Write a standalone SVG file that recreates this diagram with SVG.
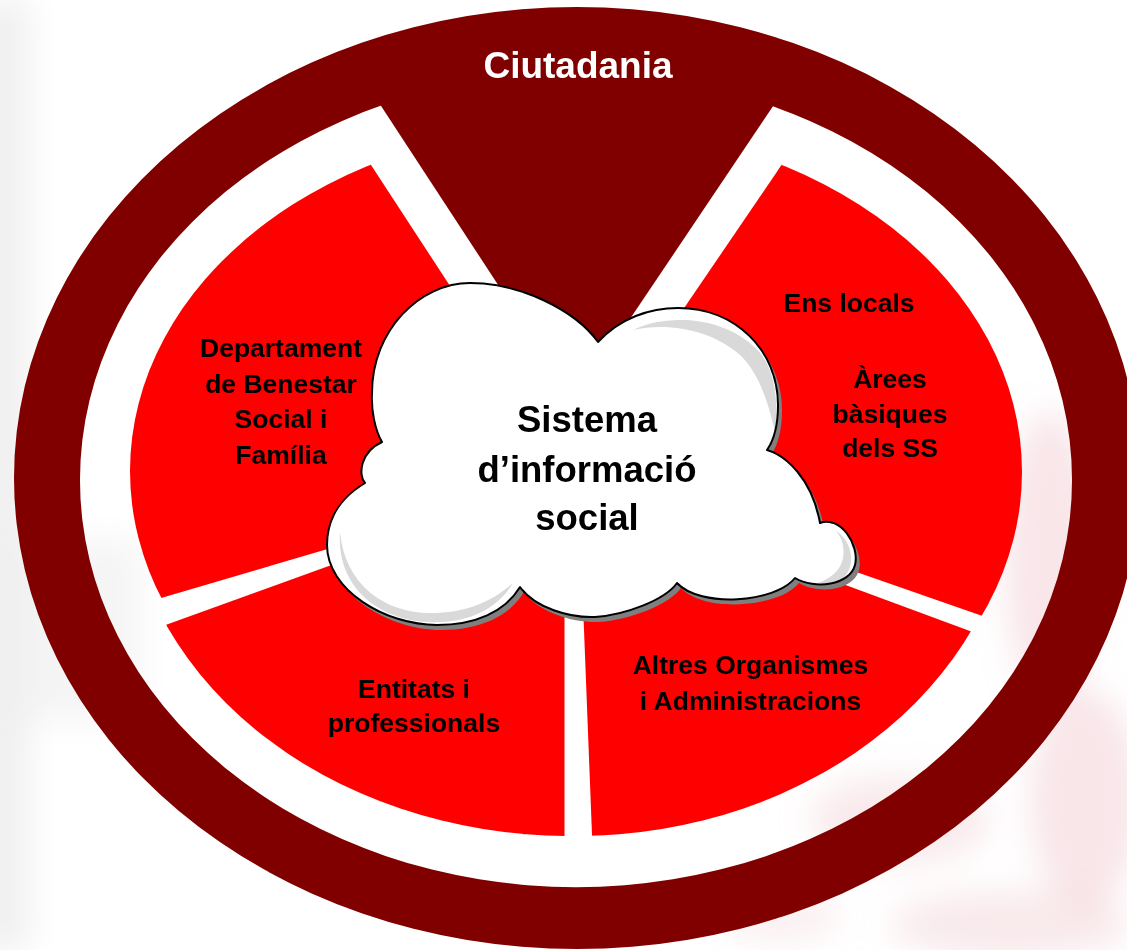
<svg xmlns="http://www.w3.org/2000/svg" width="1127" height="950" viewBox="0 0 1127 950">
<defs>
<style>
.lbl{font-family:"Liberation Sans",Arial,Helvetica,sans-serif;font-weight:bold;fill:#000;text-anchor:middle}
.s26{font-size:26.5px}
.s36{font-size:36.5px}
.maroon{fill:#800000}
.red{fill:#ff0000}
.shade{fill:#d9d9d9}
</style>
<filter id="blur" x="-50%" y="-50%" width="200%" height="200%"><feGaussianBlur stdDeviation="16"/></filter>
<clipPath id="cDep"><polygon points="574.4,476.5 263.3,0 0,0 0,645.3"/></clipPath>
<clipPath id="cEns"><polygon points="571.9,472.8 893.9,0 1127,0 1127,666.5"/></clipPath>
<clipPath id="cEnt"><polygon points="564.5,480.7 0,684.9 0,950 564.5,950"/></clipPath>
<clipPath id="cAlt"><polygon points="578.4,486.3 1127,689.1 1127,950 596.5,950"/></clipPath>
<path id="cloudShape" d="M382,442 C375,430 371,410 372,393 C372,330 420,283 470,283 C520,283 575,310 598,342 C620,318 650,308 678,308 C735,308 778,350 778,405 C778,425 774,440 767,450 C785,455 812,478 820,523 C840,515 860,545 855,565 C850,585 815,590 795,578 C775,603 700,608 677,583 C665,600 625,615 595,617 C570,618 535,608 520,587 C505,612 475,625 437,625 C385,625 327,590 327,545 C327,515 345,495 365,483 C358,475 360,452 382,442 Z"/>
</defs>
<rect width="1127" height="950" fill="#ffffff"/>
<g id="background" filter="url(#blur)">
<rect x="-30" y="0" width="60" height="950" fill="#e6e6e6" opacity="0.6"/>
<rect x="0" y="540" width="140" height="180" fill="#eeeeee" opacity="0.6"/>
<ellipse cx="1050" cy="560" rx="45" ry="150" fill="#eab8bf" opacity="0.35"/>
<ellipse cx="900" cy="820" rx="90" ry="45" fill="#eab8bf" opacity="0.3"/>
<ellipse cx="1085" cy="800" rx="55" ry="110" fill="#eab8bf" opacity="0.35"/>
<ellipse cx="1010" cy="925" rx="120" ry="35" fill="#eab8bf" opacity="0.3"/>
<ellipse cx="780" cy="915" rx="60" ry="30" fill="#eab8bf" opacity="0.2"/>
</g>
<g id="ciutadania">
<path class="maroon" fill-rule="evenodd" d="M14,478 A563,471 0 1,0 1140,478 A563,471 0 1,0 14,478 Z M80,480 A496,407 0 1,0 1072,480 A496,407 0 1,0 80,480 Z"/>
<polygon class="maroon" points="352.3,62 574.4,401.6 802.8,62"/>
<text x="578" y="78" style="font-family:'Liberation Sans',Arial,Helvetica,sans-serif;font-weight:bold;font-size:37px;fill:#ffffff;text-anchor:middle">Ciutadania</text>
</g>
<g id="departament">
<ellipse class="red" cx="576" cy="471" rx="446" ry="345" clip-path="url(#cDep)"/>
<text class="lbl s26" x="281" y="357">Departament</text>
<text class="lbl s26" x="281" y="392.5">de Benestar</text>
<text class="lbl s26" x="281" y="428">Social i</text>
<text class="lbl s26" x="281" y="463.5">Família</text>
</g>
<g id="ens-locals">
<ellipse class="red" cx="576" cy="472" rx="446" ry="346" clip-path="url(#cEns)"/>
<text class="lbl s26" x="849" y="312">Ens locals</text>
<text class="lbl s26" x="890" y="388">Àrees</text>
<text class="lbl s26" x="890" y="422.5">bàsiques</text>
<text class="lbl s26" x="890" y="457">dels SS</text>
</g>
<g id="entitats">
<ellipse class="red" cx="570" cy="472" rx="445" ry="364" clip-path="url(#cEnt)"/>
<text class="lbl s26" x="414" y="698">Entitats i</text>
<text class="lbl s26" x="414" y="732">professionals</text>
</g>
<g id="altres">
<ellipse class="red" cx="576" cy="470" rx="440" ry="366" clip-path="url(#cAlt)"/>
<text class="lbl s26" x="750.5" y="674">Altres Organismes</text>
<text class="lbl s26" x="750.5" y="709.5">i Administracions</text>
</g>
<g id="connectors"></g>
<g id="sistema">
<use href="#cloudShape" transform="translate(4,5)" fill="#7f7f7f"/>
<use href="#cloudShape" fill="#ffffff"/>
<path class="shade" d="M340,532 C336,595 390,625 440,622 C475,621 500,605 513,583 C490,603 465,613 430,613 C385,613 345,585 340,532 Z"/>
<path class="shade" d="M633,330 C665,314 720,316 752,345 C772,360 780,395 775,432 C768,400 758,372 740,355 C712,330 668,322 633,330 Z"/>
<path class="shade" d="M836,531 C851,540 856,562 846,575 C839,583 829,585 818,583 C830,579 841,570 843,558 C845,548 842,538 836,531 Z"/>
<use href="#cloudShape" fill="none" stroke="#000" stroke-width="2" stroke-linejoin="round"/>
<text class="lbl s36" x="587" y="432">Sistema</text>
<text class="lbl s36" x="587" y="482">d’informació</text>
<text class="lbl s36" x="587" y="530">social</text>
</g>
</svg>
